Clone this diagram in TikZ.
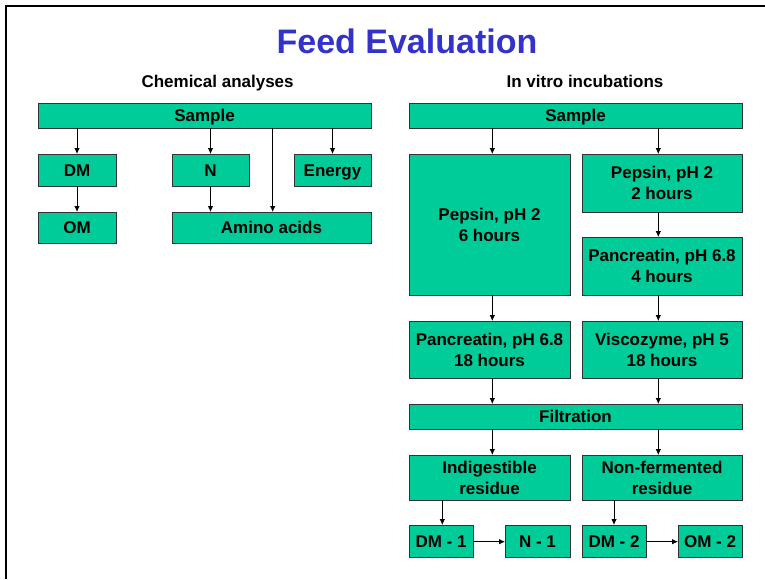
\documentclass[tikz,border=0pt]{standalone}
\usepackage{fontspec}
\setmainfont{Liberation Sans}
\usetikzlibrary{arrows.meta}
\definecolor{boxgreen}{RGB}{0,204,153}
\definecolor{titleblue}{RGB}{51,51,204}
\tikzset{
  box/.style={draw=black!80, line width=0.8pt, fill=boxgreen, inner sep=0pt, outer sep=0pt,
    align=center, font=\bfseries\fontsize{17}{21}\selectfont},
  oneline/.style={text height=12.2pt, text depth=0pt},
  twoline/.style={},
  arr/.style={draw=black, line width=0.8pt, -{Latex[length=6pt,width=5.5pt]}},
  heading/.style={anchor=base, font=\bfseries\fontsize{17}{21}\selectfont},
}
% box given by its left, right, top and bottom edges
\newcommand{\bx}[7][oneline]{% style, name, x1, x2, y1, y2, text
  \node[box, #1, minimum width={(#4-#3)*1pt}, minimum height={(#6-#5)*1pt}] (#2) at ({(#3+#4)/2},{(#5+#6)/2}) {#7};}
\begin{document}
\begin{tikzpicture}[x=1pt, y=-1pt]
\useasboundingbox (0,0) rectangle (765,579);
% frame
\draw[line width=2pt] (6,579) -- (6,6) -- (765,6);
% headings
\node[anchor=base, text=titleblue, font=\bfseries\fontsize{34}{40}\selectfont] (title) at (407,53.3) {Feed Evaluation};
\node[heading] (hchem) at (217.6,87) {Chemical analyses};
\node[heading] (hvitro) at (585,87) {In vitro incubations};

% chemical analyses
\bx{lsample}{38}{371}{103}{128}{Sample}
\bx{dm}{38}{116}{154}{186}{DM}
\bx{n}{172}{249}{154}{186}{N}
\bx{energy}{294}{371}{154}{186}{Energy}
\bx{om}{38}{116}{212}{243}{OM}
\bx{amino}{172}{371}{212}{243}{Amino acids}

\coordinate (xaa) at (272.7,0);
\draw[arr] (lsample.south -| dm.north) -- (dm.north);
\draw[arr] (lsample.south -| n.north) -- (n.north);
\draw[arr] (lsample.south -| xaa) -- (amino.north -| xaa);
\draw[arr] (lsample.south -| energy.north) -- (energy.north);
\draw[arr] (dm.south) -- (om.north);
\draw[arr] (n.south) -- (amino.north -| n.south);

% in vitro incubations
\bx{rsample}{409}{742}{103}{128}{Sample}
\bx[twoline]{pep6}{409}{570}{154}{295}{Pepsin, pH 2\\6 hours}
\bx[twoline]{pep2}{582}{742}{154}{212}{Pepsin, pH 2\\2 hours}
\bx[twoline]{pan4}{582}{742}{237}{295}{Pancreatin, pH 6.8\\4 hours}
\bx[twoline]{pan18}{409}{570}{321}{378}{Pancreatin, pH 6.8\\18 hours}
\bx[twoline]{visco}{582}{742}{321}{378}{Viscozyme, pH 5\\18 hours}
\bx{filt}{409}{742}{404}{429}{Filtration}
\bx[twoline]{indig}{409}{570}{455}{500}{Indigestible\\residue}
\bx[twoline]{nonf}{582}{742}{455}{500}{Non-fermented\\residue}
\bx{dmone}{409}{473}{525}{557}{DM - 1}
\bx{none}{505}{570}{525}{557}{N - 1}
\bx{dmtwo}{582}{646}{525}{557}{DM - 2}
\bx{omtwo}{678}{742}{525}{557}{OM - 2}

\coordinate (xl) at (492.3,0);
\coordinate (xr) at (658.3,0);
\coordinate (xi) at (442.3,0);
\coordinate (xn) at (614,0);
\coordinate (yh) at (0,541.7);
\draw[arr] (rsample.south -| xl) -- (pep6.north -| xl);
\draw[arr] (rsample.south -| xr) -- (pep2.north -| xr);
\draw[arr] (pep2.south -| xr) -- (pan4.north -| xr);
\draw[arr] (pep6.south -| xl) -- (pan18.north -| xl);
\draw[arr] (pan4.south -| xr) -- (visco.north -| xr);
\draw[arr] (pan18.south -| xl) -- (filt.north -| xl);
\draw[arr] (visco.south -| xr) -- (filt.north -| xr);
\draw[arr] (filt.south -| xl) -- (indig.north -| xl);
\draw[arr] (filt.south -| xr) -- (nonf.north -| xr);
\draw[arr] (indig.south -| xi) -- (dmone.north -| xi);
\draw[arr] (nonf.south -| xn) -- (dmtwo.north -| xn);
\draw[arr] (dmone.east |- yh) -- (none.west |- yh);
\draw[arr] (dmtwo.east |- yh) -- (omtwo.west |- yh);
\end{tikzpicture}
\end{document}
